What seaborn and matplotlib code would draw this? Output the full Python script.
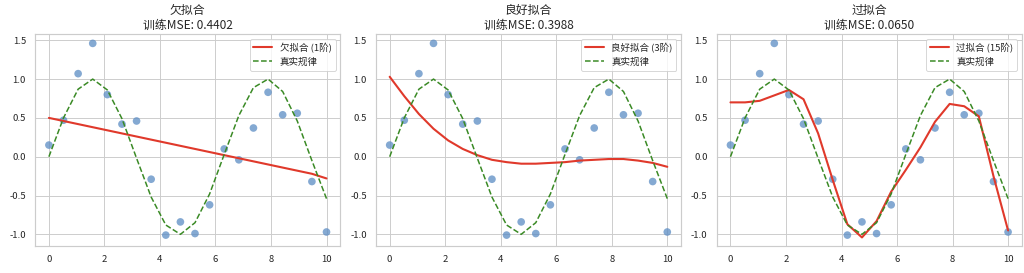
import numpy as np
import pandas as pd
import matplotlib
matplotlib.use("Agg")
import matplotlib.pyplot as plt
import seaborn as sns

x_points = [0.0, 0.526, 1.053, 1.579, 2.105, 2.632, 3.158, 3.684, 4.211, 4.737,
            5.263, 5.789, 6.316, 6.842, 7.368, 7.895, 8.421, 8.947, 9.474, 10.0]
y_observed = [0.15, 0.47, 1.07, 1.46, 0.80, 0.42, 0.46, -0.29, -1.01, -0.84,
              -0.99, -0.62, 0.10, -0.04, 0.37, 0.83, 0.54, 0.56, -0.32, -0.97]
y_true = [0.00, 0.50, 0.87, 1.00, 0.86, 0.49, -0.02, -0.52, -0.88, -1.00,
          -0.85, -0.48, 0.03, 0.53, 0.89, 1.00, 0.84, 0.46, -0.05, -0.54]
fit_deg1 = [0.50, 0.46, 0.42, 0.38, 0.34, 0.30, 0.26, 0.22, 0.18, 0.14,
            0.10, 0.06, 0.02, -0.02, -0.06, -0.10, -0.14, -0.18, -0.22, -0.28]
fit_deg3 = [1.03, 0.78, 0.55, 0.36, 0.21, 0.10, 0.02, -0.04, -0.07, -0.09,
            -0.09, -0.08, -0.07, -0.05, -0.04, -0.03, -0.03, -0.05, -0.08, -0.13]
fit_deg15 = [0.70, 0.70, 0.72, 0.79, 0.86, 0.74, 0.30, -0.30, -0.87, -1.04,
             -0.83, -0.45, -0.17, 0.12, 0.45, 0.68, 0.65, 0.52, -0.25, -0.95]

titles = ["欠拟合", "良好拟合", "过拟合"]
mse_values = ["0.4402", "0.3988", "0.0650"]
fit_labels = ["欠拟合 (1阶)", "良好拟合 (3阶)", "过拟合 (15阶)"]
fits = [fit_deg1, fit_deg3, fit_deg15]

sns.set_theme(style="whitegrid")
plt.rcParams['font.family'] = ['Noto Sans CJK SC', 'DejaVu Sans']
plt.rcParams['axes.unicode_minus'] = False

fig, axes = plt.subplots(1, 3, figsize=(15, 4), dpi=1024 / 15)
fig.subplots_adjust(left=0.0342, right=0.998, top=0.875, bottom=0.099, wspace=0.116)

for ax, title, mse, lab, fit in zip(axes, titles, mse_values, fit_labels, fits):
    df = pd.DataFrame({"x": x_points, "y": y_observed, "true": y_true, "fit": fit})
    sns.scatterplot(data=df, x="x", y="y", ax=ax, color="#5b8cc4", alpha=0.75,
                    s=65, edgecolor="none")
    sns.lineplot(data=df, x="x", y="fit", ax=ax, color="#e0392b", linewidth=2.2,
                 label=lab)
    sns.lineplot(data=df, x="x", y="true", ax=ax, color="#3a8a25", linewidth=1.6,
                 linestyle="--", label="真实规律")
    ax.set_title(f"{title}\n训练MSE: {mse}", fontsize=12.5, linespacing=1.1)
    ax.set_xlabel("")
    ax.set_ylabel("")
    ax.set_ylim(-1.15, 1.58)
    ax.set_xticks([0, 2, 4, 6, 8, 10])
    ax.set_yticks([-1.0, -0.5, 0.0, 0.5, 1.0, 1.5])
    ax.tick_params(labelsize=10)
    ax.legend(loc="upper right", fontsize=10)

fig.savefig("out.png", dpi=1024 / 15)
